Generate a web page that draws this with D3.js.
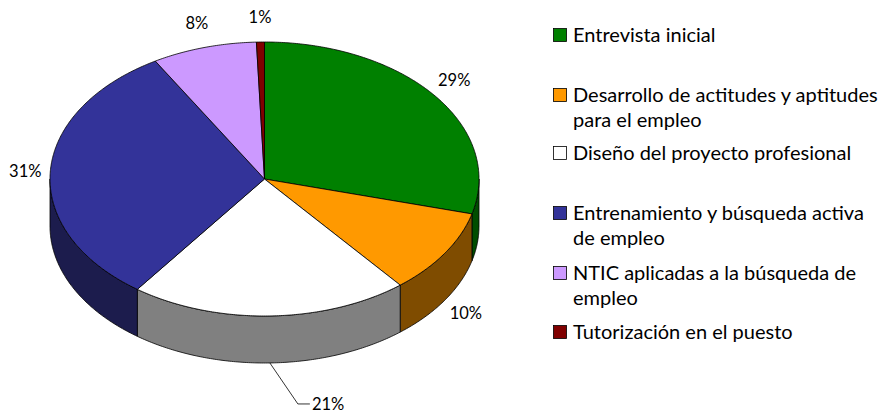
<!DOCTYPE html>
<html><head><meta charset="utf-8">
<script src="https://cdn.jsdelivr.net/npm/d3@7"></script>
<style>html,body{margin:0;padding:0;background:#fff;}svg{display:block;}</style>
</head><body>
<svg id="chart" width="882" height="414"></svg>
<script>
const categories = ["Entrevista inicial","Desarrollo de actitudes y aptitudes para el empleo","Diseño del proyecto profesional","Entrenamiento y búsqueda activa de empleo","NTIC aplicadas a la búsqueda de empleo","Tutorización en el puesto"];
const legendLines = [["Entrevista inicial"],["Desarrollo de actitudes y aptitudes","para el empleo"],["Diseño del proyecto profesional"],["Entrenamiento y búsqueda activa","de empleo"],["NTIC aplicadas a la búsqueda de","empleo"],["Tutorización en el puesto"]];
const values = [29.1, 10.0, 21.0, 31.4, 7.9, 0.6];
const colors = ["#008000","#FF9900","#FFFFFF","#333399","#CC99FF","#800000"];
const sideColors = ["#004D00","#7F4C00","#808080","#1C1C4D","#664C80","#400000"];

const svg = d3.select("#chart");
const font = "Lato, 'Open Sans', sans-serif";
const cx = 264.5, cy = 179, rx = 214.5, ry = 137, depth = 47;

const pie = d3.pie().sort(null).value(d => d)(values);
const pt = (a, dy=0) => [cx + rx*Math.sin(a), cy - ry*Math.cos(a) + dy];

function arcPts(a0, a1, dy=0) {
  const n = Math.max(2, Math.ceil(Math.abs(a1-a0)/0.01));
  return d3.range(n+1).map(i => pt(a0 + (a1-a0)*i/n, dy));
}
const line = d3.line();

// walls (front half: angles between PI/2 and 3PI/2)
const gw = svg.append("g");
pie.forEach((s, i) => {
  const a0 = Math.max(s.startAngle, Math.PI/2), a1 = Math.min(s.endAngle, 3*Math.PI/2);
  if (a1 <= a0) return;
  const top = arcPts(a0, a1, 0), bot = arcPts(a1, a0, depth);
  gw.append("path").attr("d", line(top.concat(bot)) + "Z")
    .attr("fill", sideColors[i]).attr("stroke", "#000").attr("stroke-width", 0.8).attr("stroke-linejoin","round");
});

// top slices
const gt = svg.append("g");
pie.forEach((s, i) => {
  const pts = [[cx, cy]].concat(arcPts(s.startAngle, s.endAngle));
  gt.append("path").attr("d", line(pts) + "Z")
    .attr("fill", colors[i]).attr("stroke", "#000").attr("stroke-width", 0.8).attr("stroke-linejoin","round");
});

// data labels
const gl = svg.append("g").attr("font-family", font).attr("font-size", 16.5).attr("fill", "#000");
pie.forEach((s, i) => {
  const m = (s.startAngle + s.endAngle)/2;
  const txt = Math.round(values[i]) + "%";
  const k = 25;
  if (m > 2.9 && m < 3.4) {
    const a = pt(m, depth);
    const b = [a[0]+28, a[1]+41], c = [b[0]+12, b[1]];
    gl.append("path").attr("d", line([a,b,c])).attr("fill","none").attr("stroke","#000").attr("stroke-width",0.8);
    gl.append("text").attr("x", c[0]+2).attr("y", c[1]).attr("dy","0.35em").attr("text-anchor","start").text(txt);
    return;
  }
  const x = cx + (rx+k)*Math.sin(m);
  const y = cy - (ry+k)*Math.cos(m) + (Math.cos(m) < 0 ? depth : 0);
  gl.append("text").attr("x", x).attr("y", y).attr("dy","0.35em").attr("text-anchor","middle").text(txt);
});

// legend
const legY = [35, 95, 153, 213, 273, 332];
const lg = svg.append("g").attr("font-family", font).attr("font-size", 20).attr("fill","#000");
categories.forEach((c, i) => {
  lg.append("rect").attr("x", 553.5).attr("y", legY[i]-6.5).attr("width", 13).attr("height", 13)
    .attr("fill", colors[i]).attr("stroke", "#000").attr("stroke-width", 0.8);
  legendLines[i].forEach((t, j) => {
    lg.append("text").attr("x", 573).attr("y", legY[i] + j*25).attr("dy", "0.35em").text(t);
  });
});
</script>
</body></html>
